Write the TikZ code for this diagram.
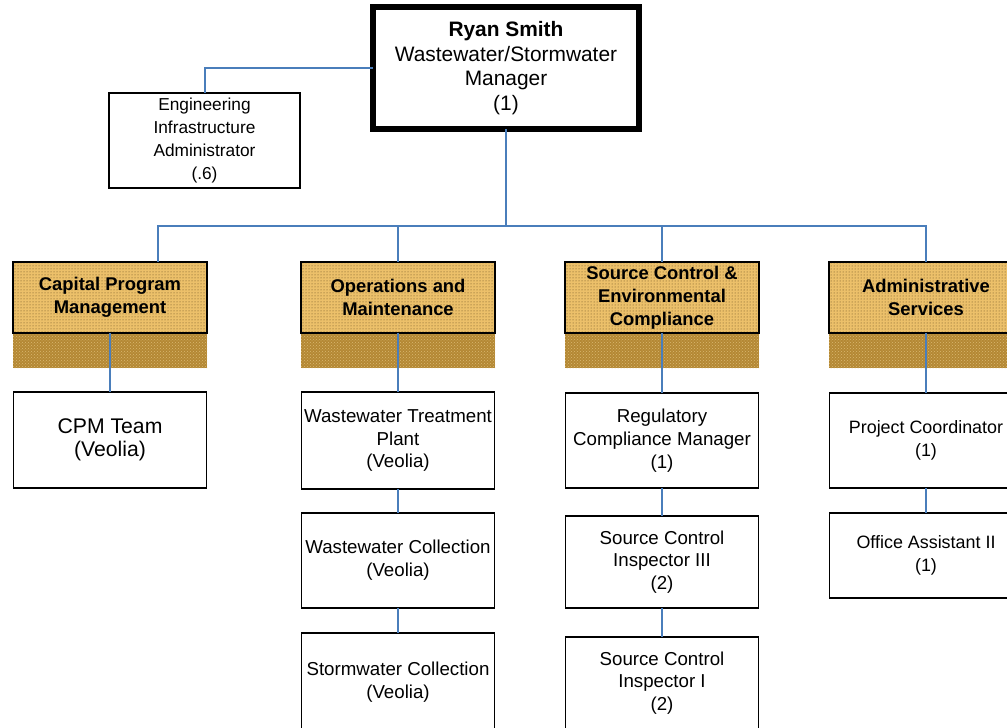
\documentclass[tikz,border=0pt]{standalone}
\usepackage{fontspec}
\setmainfont{Liberation Sans}
\usetikzlibrary{patterns}
\definecolor{conn}{RGB}{74,126,187}
\definecolor{tanlight}{RGB}{236,192,106}
\definecolor{tandot}{RGB}{95,72,30}
\definecolor{bandbase}{RGB}{180,136,52}
\definecolor{banddot}{RGB}{218,184,112}
\tikzset{
  every node/.style={inner sep=0pt, outer sep=0pt},
  topbox/.style={draw=black, line width=6pt, minimum width=266pt, minimum height=122pt, align=center, font=\fontsize{20.9}{24.5}\selectfont},
  engbox/.style={draw=black, line width=1.6pt, minimum width=191pt, minimum height=95pt, align=center, font=\fontsize{17.3}{22.7}\selectfont},
  deptbox/.style={draw=black, line width=2pt, minimum width=194pt, minimum height=71pt, align=center,
    font=\bfseries\fontsize{18.4}{23.2}\selectfont},
  deptfill/.style={fill=tanlight},
  deptdots/.style={pattern=dots, pattern color=tandot},
  band/.style={fill=bandbase},
  banddots/.style={pattern=crosshatch dots, pattern color=banddot},
  subbox/.style={draw=black, line width=1.6pt, minimum width=193pt, align=center, font=\fontsize{18.7}{22.7}\selectfont},
  conline/.style={draw=conn, line width=2pt}
}
\begin{document}
\begin{tikzpicture}[x=1pt,y=-1pt]
\useasboundingbox (0,0) rectangle (1007,728);

% top
\node[topbox] (ryan) at (506,68) {\textbf{Ryan Smith}\\Wastewater/Stormwater\\Manager\\(1)};
\node[engbox] (eng) at (204.5,140.5) {Engineering\\Infrastructure\\Administrator\\(.6)};

% department box backgrounds
\foreach \cx in {110,398,662,926}{
  \fill[band] (\cx-97,333) rectangle (\cx+97,368);
  \fill[banddots] (\cx-97,333) rectangle (\cx+97,368);
  \fill[deptfill] (\cx-97,262) rectangle (\cx+97,333);
  \fill[deptdots] (\cx-97,262) rectangle (\cx+97,333);
}
\node[deptbox] (cpm) at (110,297.5) {Capital Program\\Management};
\node[deptbox] (om) at (398,297.5) {Operations and\\Maintenance};
\node[deptbox] (sc) at (662,297.5) {Source Control \&\\Environmental\\Compliance};
\node[deptbox] (adm) at (926,297.5) {Administrative\\Services};

% sub boxes
\node[subbox, minimum height=96pt, font=\fontsize{21.2}{23}\selectfont] (cpmteam) at (110,440) {CPM Team\\(Veolia)};
\node[subbox, minimum height=97pt] (wtp) at (398,440.5) {Wastewater Treatment\\Plant\\(Veolia)};
\node[subbox, minimum height=95pt] (wc) at (398,560.5) {Wastewater Collection\\(Veolia)};
\node[subbox, minimum height=98pt] (swc) at (398,682) {Stormwater Collection\\(Veolia)};
\node[subbox, minimum height=95pt] (rcm) at (662,440.5) {Regulatory\\Compliance Manager\\(1)};
\node[subbox, minimum height=92pt] (sci3) at (662,562) {Source Control\\Inspector III\\(2)};
\node[subbox, minimum height=92pt] (sci1) at (662,683) {Source Control\\Inspector I\\(2)};
\node[subbox, minimum height=95pt, font=\fontsize{17.9}{23.5}\selectfont] (pc) at (926,440.5) {Project Coordinator\\(1)};
\node[subbox, minimum height=85pt, font=\fontsize{17.9}{23.5}\selectfont] (oa) at (926,555.5) {Office Assistant II\\(1)};

% connectors
\coordinate (bus) at (506,226);
\coordinate (cpmtop) at (158,262);
\coordinate (omtop) at (398,262);
\coordinate (sctop) at (662,262);
\coordinate (admtop) at (926,262);
\draw[conline] (eng.north) |- (ryan.west);
\draw[conline] (ryan.south) -- (bus);
\draw[conline] (cpmtop) |- (bus) -| (admtop);
\draw[conline] (bus) -| (omtop);
\draw[conline] (bus) -| (sctop);

\draw[conline] (cpm.south) -- (cpmteam.north);
\draw[conline] (om.south) -- (wtp.north);
\draw[conline] (wtp.south) -- (wc.north);
\draw[conline] (wc.south) -- (swc.north);
\draw[conline] (sc.south) -- (rcm.north);
\draw[conline] (rcm.south) -- (sci3.north);
\draw[conline] (sci3.south) -- (sci1.north);
\draw[conline] (adm.south) -- (pc.north);
\draw[conline] (pc.south) -- (oa.north);
\end{tikzpicture}
\end{document}
